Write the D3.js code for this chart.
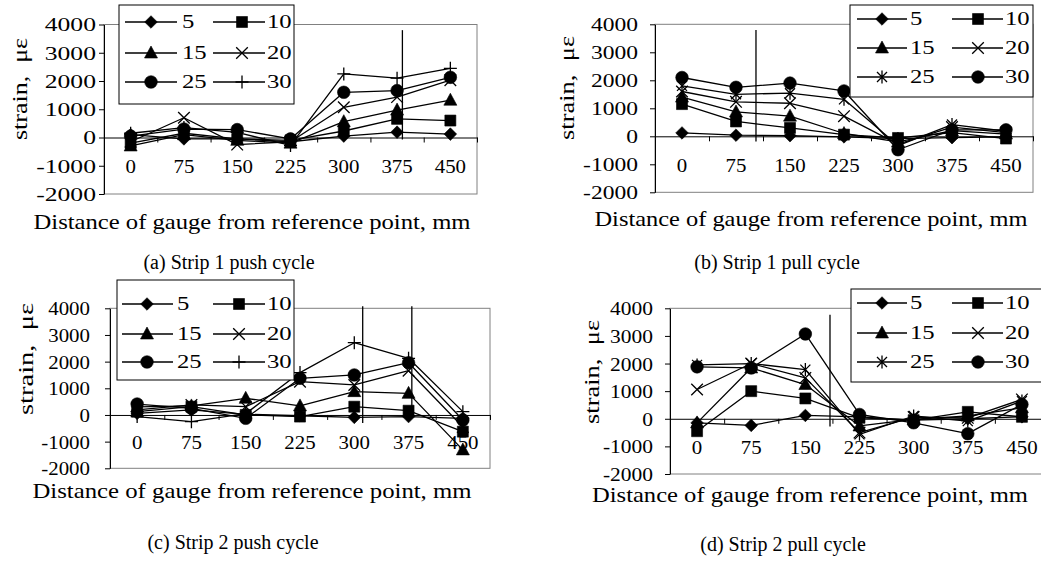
<!DOCTYPE html>
<html lang="en">
<meta charset="UTF-8">
<title>Strain distribution along strips</title>
<script src="https://d3js.org/d3.v7.min.js"></script>
<style>
body { margin: 0; background: #fff; }
svg text { font-family: "Liberation Serif", "Times New Roman", Times, serif; fill: #000; }
</style>
<body>
<div id="chart"></div>
<script>
// categories (gauge distance, mm) and load steps
const distances = ["0", "75", "150", "225", "300", "375", "450"];
const loadSteps = ["5", "10", "15", "20", "25", "30"];
const yTicks = [-2000, -1000, 0, 1000, 2000, 3000, 4000];

// strain (microstrain), one row per load step, in loadSteps order
const strip1Push = [
  [100, -50, -50, -150, 50, 190, 120],
  [-200, 150, -50, -100, 230, 660, 600],
  [-300, 100, -100, -200, 560, 970, 1320],
  [-150, 700, -250, -150, 1070, 1430, 2030],
  [50, 300, 280, -50, 1600, 1660, 2130],
  [150, 350, 180, -280, 2250, 2100, 2450]
];
const strip1Pull = [
  [120, 40, 20, -20, -80, -50, -20],
  [1150, 530, 300, 60, -60, 130, -80],
  [1400, 870, 720, 100, -200, 200, 80],
  [1600, 1230, 1180, 720, -280, 330, 130],
  [1800, 1500, 1540, 1320, -330, 420, 180],
  [2100, 1750, 1900, 1620, -480, 230, 230]
];
const strip2Push = [
  [60, 190, 25, -30, -90, -60, -125],
  [125, 310, 0, -60, 310, 160, -625],
  [300, 340, 625, 340, 875, 810, -1310],
  [190, 375, 310, 1250, 1125, 1660, -450],
  [410, 250, -125, 1375, 1500, 1960, -190],
  [-60, -250, 50, 1590, 2710, 2125, 125]
];
const strip2Pull = [
  [-150, -240, 120, 70, -50, 0, 70],
  [-450, 1000, 735, 35, -50, 250, 70],
  [-150, 1840, 1240, -260, -25, 100, 400],
  [1060, 2000, 1480, -500, 60, 35, 700],
  [1950, 2000, 1780, -565, 100, -85, 640],
  [1880, 1840, 3070, 155, -145, -540, 520]
];

// stray vertical lines in the original: [category index, top strain, bottom strain]
const guideA = [[5.10, 3800, -70]];
const guideB = [[1.37, 3800, -190]];
const guideC = [[4.155, 4080, -300], [5.06, 4080, -75]];
const guideD = [[2.455, 3765, -280]];

const captions = ["(a) Strip 1 push cycle", "(b) Strip 1 pull cycle",
                  "(c) Strip 2 push cycle", "(d) Strip 2 pull cycle"];
const xTitle = "Distance of gauge from reference point, mm";
const yTitle = "strain,\u00a0 \u03bc\u03b5";

const pushMarks = ["diamond", "square", "triangle", "x", "circle", "plus"];
const pullMarks = ["diamond", "square", "triangle", "x", "asterisk", "circle"];

// marker shapes (Excel style)
const shapes = {
  diamond: {draw(c) { const r = 6.3; c.moveTo(0, -r); c.lineTo(r, 0); c.lineTo(0, r); c.lineTo(-r, 0); c.closePath(); }},
  square: {draw(c) { const r = 5.5; c.rect(-r, -r, 2 * r, 2 * r); }},
  triangle: {draw(c) { c.moveTo(0, -7); c.lineTo(6.5, 5); c.lineTo(-6.5, 5); c.closePath(); }},
  circle: {draw(c) { const r = 6.3; c.moveTo(r, 0); c.arc(0, 0, r, 0, 2 * Math.PI); }},
  x: {draw(c) { const r = 5.8; c.moveTo(-r, -r); c.lineTo(r, r); c.moveTo(r, -r); c.lineTo(-r, r); }},
  plus: {draw(c) { const r = 6.5; c.moveTo(0, -r); c.lineTo(0, r); c.moveTo(-r, 0); c.lineTo(r, 0); }},
  asterisk: {draw(c) { const r = 5, v = 6.5; c.moveTo(-r, -r); c.lineTo(r, r); c.moveTo(r, -r); c.lineTo(-r, r); c.moveTo(0, -v); c.lineTo(0, v); }}
};
const filled = {diamond: true, square: true, triangle: true, circle: true};
const symbolPath = name => d3.symbol().type(shapes[name])();

const panels = [
  { values: strip1Push, marks: pushMarks, guides: guideA, caption: captions[0],
    plot: {x0: 104, x1: 477, y0: 24.5, y1: 194}, tickSx: 1.35, tickGap: 8,
    yT: {x: 20, y: 89, len: 102}, xT: {x: 252, y: 229, len: 437}, cap: {x: 229, y: 269},
    legend: {x: 119, y: 5, w: 175, h: 99, rows: [17, 48, 77], cols: [[6, 58, 32, 63], [94, 146, 123, 148]]} },
  { values: strip1Pull, marks: pullMarks, guides: guideB, caption: captions[1],
    plot: {x0: 655, x1: 1033, y0: 24.3, y1: 192.3}, tickSx: 1.24, tickGap: 17,
    yT: {x: 567, y: 88, len: 104}, xT: {x: 811, y: 226, len: 433}, cap: {x: 777, y: 269},
    legend: {x: 850, y: 5, w: 183, h: 92, rows: [14, 43, 72], cols: [[7, 57, 32, 60], [102, 153, 128, 155]]} },
  { values: strip2Push, marks: pushMarks, guides: guideC, caption: captions[2],
    plot: {x0: 110, x1: 490, y0: 308.3, y1: 468.3}, tickSx: 1.1, tickGap: 20,
    yT: {x: 26, y: 359, len: 112}, xT: {x: 252, y: 498, len: 439}, cap: {x: 233, y: 549},
    legend: {x: 117, y: 280, w: 177, h: 100, rows: [24, 54, 82], cols: [[5, 56, 30, 60], [96, 148, 122, 150]]} },
  { values: strip2Pull, marks: pullMarks, guides: guideD, caption: captions[3],
    plot: {x0: 670, x1: 1049, y0: 308.3, y1: 474}, tickSx: 1.13, tickGap: 17,
    yT: {x: 592, y: 372, len: 104}, xT: {x: 810, y: 502, len: 436}, cap: {x: 783, y: 551},
    legend: {x: 851, y: 289, w: 200, h: 93, rows: [14, 44, 73], cols: [[6, 56, 31, 59], [101, 152, 127, 154]]} }
];

const svg = d3.select("#chart").append("svg")
  .attr("width", 1041).attr("height", 564);

panels.forEach(drawPanel);

function drawPanel(p) {
  const g = svg.append("g");
  const x = d3.scaleLinear().domain([-0.5, distances.length - 0.5]).range([p.plot.x0, p.plot.x1]);
  const y = d3.scaleLinear().domain([-2000, 4000]).range([p.plot.y1, p.plot.y0]);

  // plot area frame
  g.append("rect")
    .attr("x", p.plot.x0).attr("y", p.plot.y0)
    .attr("width", p.plot.x1 - p.plot.x0).attr("height", p.plot.y1 - p.plot.y0)
    .attr("fill", "none").attr("stroke", "#808080").attr("stroke-width", 1);

  // value axis
  const ya = g.append("g")
    .attr("transform", "translate(" + p.plot.x0 + ",0)")
    .call(d3.axisLeft(y).tickValues(yTicks).tickSize(5).tickSizeOuter(0).tickFormat(d => String(d)));
  ya.select(".domain").attr("stroke", "#000");
  ya.selectAll("text")
    .attr("font-size", 19)
    .attr("x", -p.tickGap / p.tickSx).attr("dy", "0.34em")
    .attr("transform", "scale(" + p.tickSx + ",1)");

  // category axis crossing at zero, ticks between categories
  const xa = g.append("g")
    .attr("transform", "translate(0," + y(0) + ")")
    .call(d3.axisBottom(x).tickValues(d3.range(-0.5, distances.length, 1)).tickSize(5).tickSizeOuter(0).tickFormat(""));
  xa.select(".domain").attr("stroke", "#000");

  // category labels sit on the -1000 level
  g.selectAll(".xlab").data(distances).join("text")
    .attr("class", "xlab")
    .attr("font-size", 19).attr("text-anchor", "middle").attr("dy", "0.34em")
    .attr("transform", (d, i) => "translate(" + x(i) + "," + (y(-1000) + 1) + ") scale(1.1,1)")
    .text(d => d);

  // series
  const line = d3.line().x((d, i) => x(i)).y(d => y(d));
  p.values.forEach(row => {
    g.append("path").datum(row)
      .attr("d", line).attr("fill", "none")
      .attr("stroke", "#000").attr("stroke-width", 1.3).attr("stroke-linejoin", "round");
  });
  p.values.forEach((row, k) => {
    const m = p.marks[k];
    g.selectAll(null).data(row).join("path")
      .attr("transform", (d, i) => "translate(" + x(i) + "," + y(d) + ")")
      .attr("d", symbolPath(m))
      .attr("fill", filled[m] ? "#000" : "none")
      .attr("stroke", "#000").attr("stroke-width", filled[m] ? 0.6 : 1.3);
  });

  // stray vertical lines
  g.selectAll(".guide").data(p.guides).join("line")
    .attr("class", "guide")
    .attr("x1", d => x(d[0])).attr("x2", d => x(d[0]))
    .attr("y1", d => y(d[1])).attr("y2", d => y(d[2]))
    .attr("stroke", "#000").attr("stroke-width", 1.3);

  // legend
  const L = p.legend;
  const lg = g.append("g").attr("transform", "translate(" + L.x + "," + L.y + ")");
  lg.append("rect").attr("width", L.w).attr("height", L.h)
    .attr("fill", "#fff").attr("stroke", "#000").attr("stroke-width", 1);
  loadSteps.forEach((s, k) => {
    const c = L.cols[k % 2], ry = L.rows[Math.floor(k / 2)], m = p.marks[k];
    lg.append("line").attr("x1", c[0]).attr("x2", c[1]).attr("y1", ry).attr("y2", ry)
      .attr("stroke", "#000").attr("stroke-width", 1.3);
    lg.append("path").attr("transform", "translate(" + c[2] + "," + ry + ")")
      .attr("d", symbolPath(m))
      .attr("fill", filled[m] ? "#000" : "none")
      .attr("stroke", "#000").attr("stroke-width", filled[m] ? 0.6 : 1.3);
    lg.append("text").attr("font-size", 19).attr("dy", "0.34em")
      .attr("transform", "translate(" + c[3] + "," + ry + ") scale(1.3,1)")
      .text(s);
  });

  // axis titles and caption
  g.append("text")
    .attr("x", p.xT.x).attr("y", p.xT.y)
    .attr("font-size", 21).attr("text-anchor", "middle")
    .attr("textLength", p.xT.len).attr("lengthAdjust", "spacingAndGlyphs")
    .text(xTitle);
  g.append("text")
    .attr("transform", "translate(" + p.yT.x + "," + p.yT.y + ") rotate(-90)")
    .attr("font-size", 21).attr("text-anchor", "middle").attr("dy", "0.33em")
    .attr("textLength", p.yT.len).attr("lengthAdjust", "spacingAndGlyphs")
    .text(yTitle);
  g.append("text")
    .attr("x", p.cap.x).attr("y", p.cap.y)
    .attr("font-size", 20).attr("text-anchor", "middle")
    .text(p.caption);
}
</script>
</body>
</html>
